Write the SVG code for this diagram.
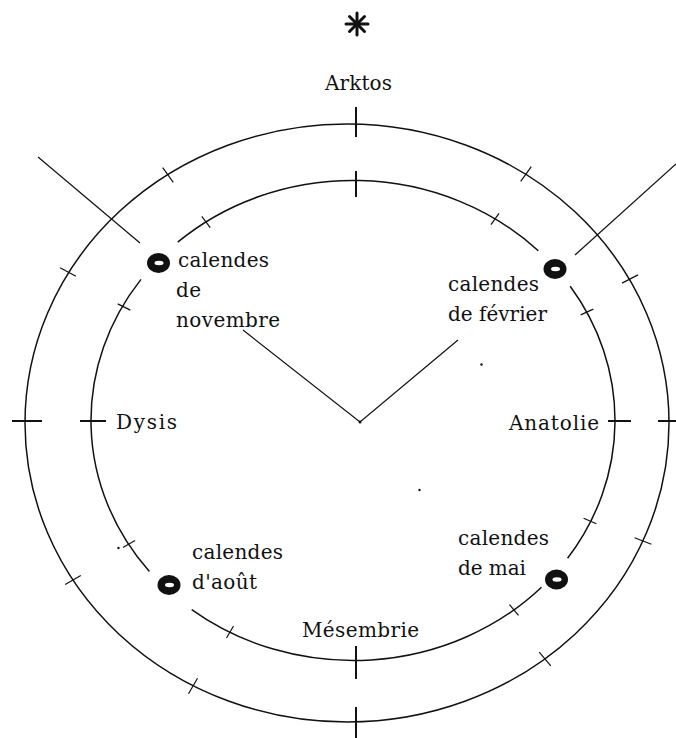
<svg xmlns="http://www.w3.org/2000/svg" width="676" height="738" viewBox="0 0 676 738">
<style>
.ring{fill:none;stroke:#111;stroke-width:1.5}
.tk{stroke:#111;stroke-width:1.2;fill:none}
.big{stroke:#111;stroke-width:2;fill:none}
.ln{stroke:#111;stroke-width:1.2;fill:none}
.lbl{font-family:"DejaVu Serif","Liberation Serif",serif;font-size:20px;fill:#111}
.blob{fill:#111}
.hole{fill:#fff}
</style>
<rect width="676" height="738" fill="#fff"/>
<g id="star" stroke="#111" stroke-width="3" stroke-linecap="round">
<line x1="357" y1="13" x2="357" y2="35"/>
<line x1="346" y1="24" x2="368" y2="24"/>
<line x1="349.5" y1="16.5" x2="364.5" y2="31.5"/>
<line x1="364.5" y1="16.5" x2="349.5" y2="31.5"/>
</g>
<g id="outer-ring">
<ellipse class="ring" cx="347" cy="423" rx="322" ry="299"/>
</g>
<g id="inner-ring">
<path class="ring" d="M541.5,587.2 A262,240 0 0 1 191.7,609.6 M149.4,571.5 A262,240 0 0 1 141.0,279.4 M177.7,242.2 A262,240 0 0 1 538.3,250.8 M570.2,286.3 A262,240 0 0 1 567.6,558.2"/>
</g>
<g id="ticks">
<line class="big" x1="356" y1="107" x2="356" y2="137"/>
<line class="big" x1="356" y1="171" x2="356" y2="197"/>
<line class="big" x1="356" y1="646" x2="356" y2="679"/>
<line class="big" x1="356" y1="707" x2="356" y2="738"/>
<line class="big" x1="12" y1="421" x2="42" y2="421"/>
<line class="big" x1="80" y1="421" x2="106" y2="421"/>
<line class="big" x1="608" y1="421" x2="631" y2="421"/>
<line class="big" x1="658" y1="421" x2="684" y2="421"/>
<line class="tk" x1="162.7" y1="167.7" x2="173.3" y2="182.3"/>
<line class="tk" x1="60.1" y1="267.7" x2="75.9" y2="276.3"/>
<line class="tk" x1="65.2" y1="584.5" x2="80.8" y2="575.5"/>
<line class="tk" x1="188.5" y1="693.8" x2="197.5" y2="678.2"/>
<line class="tk" x1="550.8" y1="665.9" x2="539.2" y2="652.1"/>
<line class="tk" x1="651.4" y1="544.3" x2="634.6" y2="537.7"/>
<line class="tk" x1="638.0" y1="274.9" x2="622.0" y2="283.1"/>
<line class="tk" x1="531.3" y1="166.7" x2="520.7" y2="181.3"/>
<line class="tk" x1="201.8" y1="216.4" x2="210.2" y2="227.6"/>
<line class="tk" x1="117.7" y1="303.9" x2="130.3" y2="310.1"/>
<line class="tk" x1="122.9" y1="547.4" x2="135.1" y2="540.6"/>
<line class="tk" x1="226.5" y1="638.0" x2="233.5" y2="626.0"/>
<line class="tk" x1="518.5" y1="615.3" x2="509.5" y2="604.7"/>
<line class="tk" x1="596.4" y1="523.7" x2="583.6" y2="518.3"/>
<line class="tk" x1="593.3" y1="309.1" x2="580.7" y2="314.9"/>
<line class="tk" x1="499.0" y1="213.3" x2="491.0" y2="224.7"/>
</g>
<g id="connectors">
<line class="ln" x1="38" y1="157" x2="140" y2="243"/>
<line class="ln" x1="676" y1="164" x2="575" y2="255"/>
<polyline class="ln" points="243,330 360,422 458,340"/>
<circle cx="360" cy="422" r="1.5" fill="#111"/>
</g>
<g id="dots" fill="#111">
<circle cx="481.5" cy="364.5" r="1.2"/>
<circle cx="419.5" cy="490" r="1.2"/>
<circle cx="118.5" cy="548" r="1.2"/>
</g>
<g id="arktos"><text class="lbl" x="325" y="90" textLength="67" lengthAdjust="spacing">Arktos</text></g>
<g id="dysis"><text class="lbl" x="116" y="429" textLength="61" lengthAdjust="spacing">Dysis</text></g>
<g id="anatolie"><text class="lbl" x="509" y="430" textLength="90" lengthAdjust="spacing">Anatolie</text></g>
<g id="mesembrie"><text class="lbl" x="302" y="637" textLength="117" lengthAdjust="spacing">Mésembrie</text></g>
<g id="novembre">
<ellipse class="blob" cx="158.5" cy="263" rx="11.5" ry="10"/>
<ellipse class="hole" cx="159" cy="263" rx="4.5" ry="2.2"/>
<text class="lbl" x="178" y="267" textLength="91" lengthAdjust="spacing">calendes</text>
<text class="lbl" x="176" y="297" textLength="25" lengthAdjust="spacing">de</text>
<text class="lbl" x="176" y="327" textLength="104" lengthAdjust="spacing">novembre</text>
</g>
<g id="fevrier">
<ellipse class="blob" cx="555" cy="269" rx="11.5" ry="10"/>
<ellipse class="hole" cx="555.5" cy="269" rx="4.5" ry="2.2"/>
<text class="lbl" x="448" y="291" textLength="91" lengthAdjust="spacing">calendes</text>
<text class="lbl" x="448" y="321" textLength="99" lengthAdjust="spacing">de février</text>
</g>
<g id="aout">
<ellipse class="blob" cx="169" cy="585" rx="11.5" ry="10"/>
<ellipse class="hole" cx="169.5" cy="585" rx="4.5" ry="2.2"/>
<text class="lbl" x="192" y="559" textLength="91" lengthAdjust="spacing">calendes</text>
<text class="lbl" x="192" y="589" textLength="65" lengthAdjust="spacing">d'août</text>
</g>
<g id="mai">
<ellipse class="blob" cx="556.5" cy="579.5" rx="11.5" ry="10"/>
<ellipse class="hole" cx="557" cy="579.5" rx="4.5" ry="2.2"/>
<text class="lbl" x="458" y="545" textLength="91" lengthAdjust="spacing">calendes</text>
<text class="lbl" x="458" y="575" textLength="68" lengthAdjust="spacing">de mai</text>
</g>
</svg>
